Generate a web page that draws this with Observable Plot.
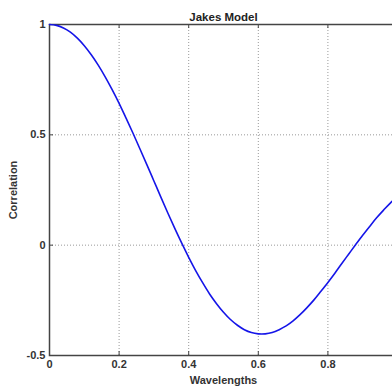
<!DOCTYPE html>
<html>
<head>
<meta charset="utf-8">
<script src="https://cdn.jsdelivr.net/npm/d3@7"></script>
<script src="https://cdn.jsdelivr.net/npm/@observablehq/plot@0.6"></script>
<style>
  html, body { margin: 0; padding: 0; background: #fff; overflow: hidden; }
  #chart svg { max-width: none !important; width: 400px !important; height: 388px !important; display: block; }
</style>
</head>
<body>
<div id="chart"></div>
<script>
const title = "Jakes Model";
const xLabel = "Wavelengths";
const yLabel = "Correlation";
const xTicks = [0, 0.2, 0.4, 0.6, 0.8];
const yTicks = [-0.5, 0, 0.5, 1];
const wavelengths = [0, 0.02, 0.04, 0.06, 0.08, 0.10, 0.12, 0.14, 0.16, 0.18, 0.20,
  0.22, 0.24, 0.26, 0.28, 0.30, 0.32, 0.34, 0.36, 0.38, 0.40,
  0.42, 0.44, 0.46, 0.48, 0.50, 0.52, 0.54, 0.56, 0.58, 0.60,
  0.62, 0.64, 0.66, 0.68, 0.70, 0.72, 0.74, 0.76, 0.78, 0.80,
  0.82, 0.84, 0.86, 0.88, 0.90, 0.92, 0.94, 0.96, 0.98, 1.00];
const correlation = [1.000, 0.996, 0.984, 0.965, 0.938, 0.904, 0.863, 0.816, 0.763, 0.705, 0.643,
  0.576, 0.507, 0.436, 0.364, 0.291, 0.218, 0.146, 0.076, 0.009, -0.055,
  -0.115, -0.170, -0.221, -0.265, -0.304, -0.337, -0.363, -0.383, -0.396, -0.402,
  -0.402, -0.396, -0.383, -0.366, -0.343, -0.315, -0.283, -0.248, -0.209, -0.169,
  -0.127, -0.083, -0.040, 0.003, 0.045, 0.085, 0.124, 0.159, 0.192, 0.220];

const data = wavelengths.map((x, i) => ({x, y: correlation[i]}));

const W = 400, H = 388;
const mL = 49, mR = 3, mT = 24, mB = 33;
const fmt = d => String(d);

const chart = Plot.plot({
  width: W,
  height: H,
  marginLeft: mL,
  marginRight: mR,
  marginTop: mT,
  marginBottom: mB,
  style: {fontFamily: "'Liberation Sans', Arial, sans-serif", fontSize: "11px", fontWeight: "bold", color: "#333", background: "#fff"},
  x: {domain: [0, 1]},
  y: {domain: [-0.5, 1]},
  marks: [
    Plot.gridX(xTicks.slice(1), {stroke: "#999", strokeOpacity: 1, strokeDasharray: "1,2"}),
    Plot.gridY(yTicks.slice(1, 3), {stroke: "#999", strokeOpacity: 1, strokeDasharray: "1,2"}),
    Plot.tickX(xTicks, {x: d => d, insetTop: H - mT - mB - 4, stroke: "#444"}),
    Plot.tickX(xTicks, {x: d => d, insetBottom: H - mT - mB - 4, stroke: "#444"}),
    Plot.tickY(yTicks, {y: d => d, insetRight: W - mL - mR - 4, stroke: "#444"}),
    Plot.frame({stroke: "#444", strokeWidth: 1.5}),
    Plot.axisX({ticks: xTicks, tickSize: 0, tickPadding: 5, tickFormat: fmt, label: xLabel, labelAnchor: "center", labelOffset: 28, labelArrow: "none"}),
    Plot.axisY({ticks: yTicks, tickSize: 0, tickPadding: 4, tickFormat: fmt, label: yLabel, labelAnchor: "center", labelOffset: 40, labelArrow: "none"}),
    Plot.line(data, {x: "x", y: "y", stroke: "#1515e8", strokeWidth: 1.6, curve: "catmull-rom"}),
    Plot.text([title], {frameAnchor: "top", dy: -12, fontWeight: "bold", fontSize: 11.5, fill: "#222"})
  ]
});
document.getElementById("chart").appendChild(chart);
</script>
</body>
</html>
